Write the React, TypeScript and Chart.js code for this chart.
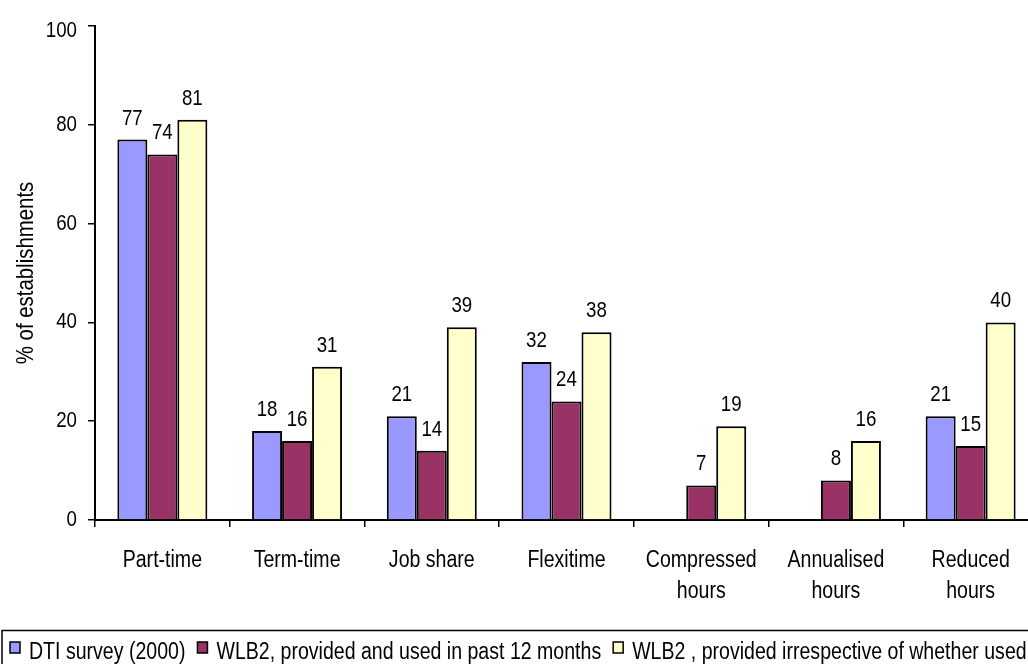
import React, { useEffect, useRef } from "react";
import { Chart, registerables } from "chart.js";

Chart.register(...registerables);

// Flexible working arrangements offered by establishments
const categories: string[][] = [
  ["Part-time"],
  ["Term-time"],
  ["Job share"],
  ["Flexitime"],
  ["Compressed", "hours"],
  ["Annualised", "hours"],
  ["Reduced", "hours"],
];
const dtiSurvey: (number | null)[] = [77, 18, 21, 32, null, null, 21];
const wlb2Used: number[] = [74, 16, 14, 24, 7, 8, 15];
const wlb2Provided: number[] = [81, 31, 39, 38, 19, 16, 40];
const seriesNames: string[] = [
  "DTI survey (2000)",
  "WLB2, provided and used in past 12 months",
  "WLB2 , provided irrespective of whether used",
];
const seriesColors: string[] = ["#9999FF", "#993366", "#FFFFCC"];
const yTickValues: number[] = [0, 20, 40, 60, 80, 100];
const yAxisTitle = "% of establishments";

const FAMILY = "'Liberation Sans', Arial, sans-serif";
// horizontal squeeze giving a narrow sans look
const NARROW = 0.85;
const CANVAS_W = 1050;
const CANVAS_H = 664;

function narrowText(
  ctx: CanvasRenderingContext2D,
  text: string,
  x: number,
  y: number,
  size: number,
  align: CanvasTextAlign = "center",
  baseline: CanvasTextBaseline = "alphabetic",
  rotate = 0
) {
  ctx.save();
  ctx.font = `${size}px ${FAMILY}`;
  ctx.fillStyle = "#000";
  ctx.textAlign = align;
  ctx.textBaseline = baseline;
  ctx.translate(x, y);
  if (rotate) ctx.rotate(rotate);
  ctx.scale(NARROW, 1);
  ctx.fillText(text, 0, 0);
  ctx.restore();
}

function narrowWidth(ctx: CanvasRenderingContext2D, text: string, size: number) {
  ctx.save();
  ctx.font = `${size}px ${FAMILY}`;
  const w = ctx.measureText(text).width * NARROW;
  ctx.restore();
  return w;
}

// Axis labels, axis title and bar values
const chartText = {
  id: "chartText",
  afterDraw(chart: any) {
    const ctx: CanvasRenderingContext2D = chart.ctx;
    const xs = chart.scales.x;
    const ys = chart.scales.y;

    yTickValues.forEach((v) => {
      const py = Math.max(ys.getPixelForValue(v), 31);
      narrowText(ctx, String(v), ys.right - 18, py, 22, "right", "middle");
    });

    categories.forEach((lines, i) => {
      const cx = xs.getPixelForValue(i);
      lines.forEach((line, k) => {
        narrowText(ctx, line, cx, 567 + k * 31, 23);
      });
    });

    narrowText(
      ctx,
      yAxisTitle,
      33,
      (chart.chartArea.top + chart.chartArea.bottom) / 2,
      24,
      "center",
      "alphabetic",
      -Math.PI / 2
    );

    chart.data.datasets.forEach((ds: any, i: number) => {
      const meta = chart.getDatasetMeta(i);
      meta.data.forEach((bar: any, j: number) => {
        const v = ds.data[j];
        if (v === null || v === undefined) return;
        narrowText(ctx, String(v), bar.x, bar.y - 15, 22);
      });
    });
  },
};

// Boxed legend along the bottom edge
const boxedLegend = {
  id: "boxedLegend",
  afterDraw(chart: any) {
    const ctx: CanvasRenderingContext2D = chart.ctx;
    ctx.save();
    ctx.lineWidth = 1.5;
    ctx.strokeStyle = "#000";
    ctx.strokeRect(2, 630.5, CANVAS_W + 20, 60);
    let x = 10;
    seriesNames.forEach((name, i) => {
      ctx.fillStyle = seriesColors[i];
      ctx.fillRect(x, 642, 10, 11);
      ctx.lineWidth = 1.5;
      ctx.strokeStyle = "#000";
      ctx.strokeRect(x, 642, 10, 11);
      const tx = x + 19;
      narrowText(ctx, name, tx, 659, 23, "left");
      x = tx + narrowWidth(ctx, name, 23) + 12;
    });
    ctx.restore();
  },
};

export default function App() {
  const canvasRef = useRef<HTMLCanvasElement | null>(null);

  useEffect(() => {
    if (!canvasRef.current) return;
    const chart = new Chart(canvasRef.current, {
      type: "bar",
      data: {
        labels: categories.map((c) => c.join(" ")),
        datasets: [dtiSurvey, wlb2Used, wlb2Provided].map((d, i) => ({
          label: seriesNames[i],
          data: d,
          backgroundColor: seriesColors[i],
          borderColor: "#000",
          borderWidth: 2,
          borderSkipped: "bottom",
          categoryPercentage: 0.668,
          barPercentage: 1,
        })),
      },
      options: {
        responsive: false,
        animation: false,
        layout: { padding: { top: 26, right: 12, bottom: 0, left: 0 } },
        plugins: {
          legend: { display: false },
          tooltip: { enabled: false },
        },
        scales: {
          x: {
            offset: true,
            grid: {
              offset: true,
              drawOnChartArea: false,
              drawTicks: true,
              tickLength: 7,
              color: "#000",
              lineWidth: 1.5,
            },
            border: { display: true, color: "#000", width: 2 },
            ticks: { display: false, autoSkip: false },
            afterFit(scale: any) {
              scale.height = CANVAS_H - 520;
            },
          },
          y: {
            min: 0,
            max: 100,
            grid: {
              drawOnChartArea: false,
              drawTicks: true,
              tickLength: 7,
              color: "#000",
              lineWidth: 1.5,
            },
            border: { display: true, color: "#000", width: 2 },
            ticks: { display: false, stepSize: 20 },
            afterFit(scale: any) {
              scale.width = 95;
            },
          },
        },
      },
      plugins: [chartText, boxedLegend],
    });
    return () => chart.destroy();
  }, []);

  return (
    <div
      style={{
        position: "absolute",
        left: 0,
        top: 0,
        width: 1028,
        height: 664,
        overflow: "hidden",
        background: "#fff",
      }}
    >
      <canvas ref={canvasRef} width={CANVAS_W} height={CANVAS_H} style={{ display: "block" }} />
    </div>
  );
}
